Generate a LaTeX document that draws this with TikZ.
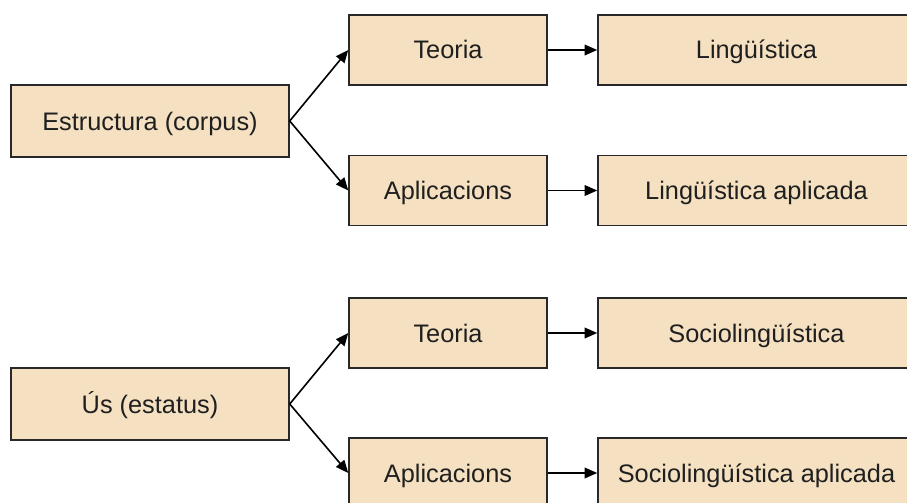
\documentclass[tikz,border=0pt]{standalone}
\usepackage{fontspec}
\setmainfont{Liberation Sans}
\usetikzlibrary{arrows.meta}
\definecolor{boxfill}{RGB}{245,225,193}
\definecolor{boxline}{RGB}{40,40,40}
\tikzset{
  boxbase/.style={draw=boxline, fill=boxfill, line width=1.1pt, inner sep=0pt, text=black!88, font=\fontsize{19pt}{22pt}\selectfont, text height=16pt, text depth=2.5pt},
  leftbox/.style={boxbase, minimum width=208.5pt, minimum height=54pt},
  midbox/.style={boxbase, minimum width=148.5pt, minimum height=52.5pt},
  rightbox/.style={boxbase, minimum width=237.75pt, minimum height=52.5pt},
  conn/.style={draw=black, line width=1.2pt, -{Triangle[length=9.5pt,width=8pt]}}
}
\begin{document}
\begin{tikzpicture}[x=0.75pt,y=-0.75pt]
\useasboundingbox (0,0) rectangle (907,503);
\clip (0,0) rectangle (907,503);
\node[leftbox] (est) at (150,121) {Estructura (corpus)};
\node[midbox] (t1) at (448,50) {Teoria};
\node[midbox] (a1) at (448,190.5) {Aplicacions};
\node[rightbox] (l1) at (756.5,50) {Lingüística};
\node[rightbox] (l2) at (756.5,190.5) {Lingüística aplicada};
\node[leftbox] (us) at (150,404) {Ús (estatus)};
\node[midbox] (t2) at (448,333) {Teoria};
\node[midbox] (a2) at (448,473) {Aplicacions};
\node[rightbox] (s1) at (756.5,333) {Sociolingüística};
\node[rightbox] (s2) at (756.5,473) {Sociolingüística aplicada};
\draw[conn] (est.east) -- (t1.west);
\draw[conn] (est.east) -- (a1.west);
\draw[conn] (us.east) -- (t2.west);
\draw[conn] (us.east) -- (a2.west);
\draw[conn] (t1.east) -- (l1.west);
\draw[conn] (a1.east) -- (l2.west);
\draw[conn] (t2.east) -- (s1.west);
\draw[conn] (a2.east) -- (s2.west);
\end{tikzpicture}
\end{document}
